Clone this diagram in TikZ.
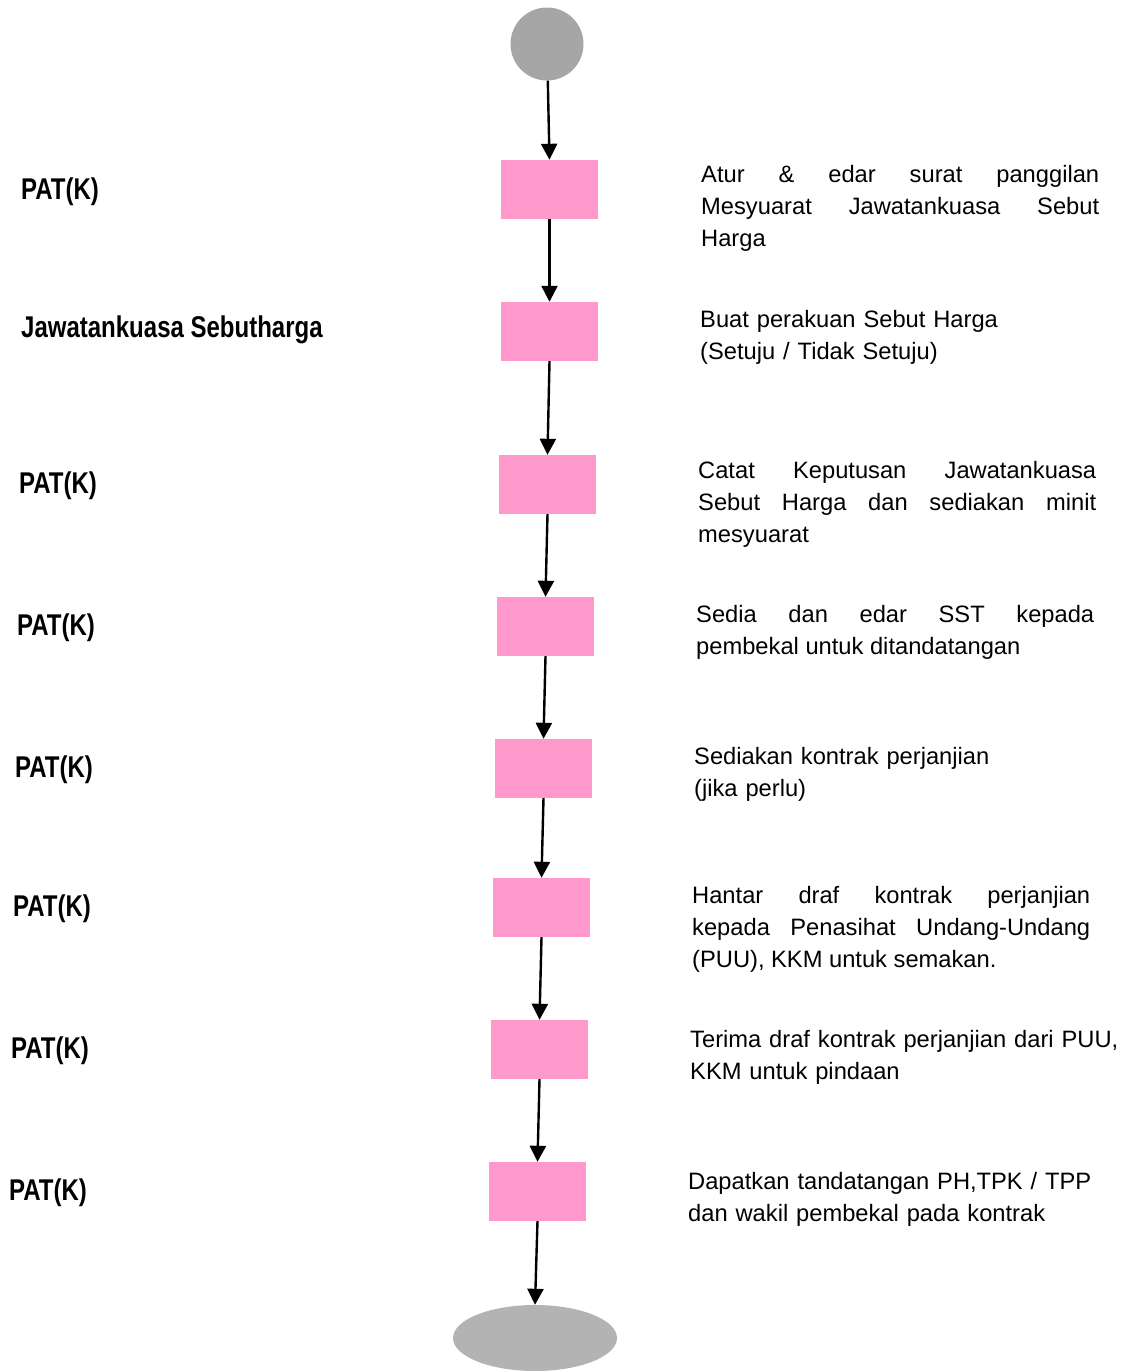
\documentclass[tikz,border=0pt]{standalone}
\usepackage{fontspec}
\setmainfont{Liberation Sans}
\newfontfamily\labelfont[FakeStretch=0.8]{Liberation Sans Bold}
\usetikzlibrary{arrows.meta,shapes.geometric}
\definecolor{boxpink}{HTML}{FF99CC}
\definecolor{startgray}{HTML}{A6A6A6}
\definecolor{endgray}{HTML}{B3B3B3}
\begin{document}
\begin{tikzpicture}[x=1pt,y=-1pt,
  stepbox/.style={fill=boxpink, draw=none, minimum width=97pt, minimum height=59pt, inner sep=0pt},
  flow/.style={line width=2.4pt, -{Triangle[width=16pt,length=16pt]}},
  who/.style={anchor=base west, inner sep=0pt, font=\fontsize{30pt}{36pt}\labelfont},
  what/.style={anchor=base west, inner sep=0pt, text width=398pt, align=justify, font=\fontsize{23.7pt}{32pt}\selectfont},
  whatrag/.style={anchor=base west, inner sep=0pt, text width=440pt, align=left, font=\fontsize{23.7pt}{32pt}\selectfont}]
\useasboundingbox (0,0) rectangle (1129,1371);

% terminals
\node[circle, fill=startgray, draw=none, minimum size=73pt, inner sep=0pt] (start) at (547,44) {};
\node[ellipse, fill=endgray, draw=none, minimum width=164pt, minimum height=66pt, inner sep=0pt] (finish) at (535,1338) {};

% process steps
\node[stepbox] (b1) at (549.5,189.5) {};
\node[stepbox] (b2) at (549.5,331.5) {};
\node[stepbox] (b3) at (547.5,484.5) {};
\node[stepbox] (b4) at (545.5,626.5) {};
\node[stepbox] (b5) at (543.5,768.5) {};
\node[stepbox] (b6) at (541.5,907.5) {};
\node[stepbox] (b7) at (539.5,1049.5) {};
\node[stepbox] (b8) at (537.5,1191.5) {};

% connectors
\draw[flow] (start) -- (b1.north);
\draw[flow] (b1.south) -- (b2.north);
\draw[flow] (b2.south) -- (b3.north);
\draw[flow] (b3.south) -- (b4.north);
\draw[flow] (b4.south) -- (b5.north);
\draw[flow] (b5.south) -- (b6.north);
\draw[flow] (b6.south) -- (b7.north);
\draw[flow] (b7.south) -- (b8.north);
\draw[flow] (b8.south) -- (finish.north);

% responsible party
\node[who] (w1) at (21,199) {PAT(K)};
\node[who] (w2) at (21,337) {Jawatankuasa Sebutharga};
\node[who] (w3) at (19,493) {PAT(K)};
\node[who] (w4) at (17,635) {PAT(K)};
\node[who] (w5) at (15,777) {PAT(K)};
\node[who] (w6) at (13,916) {PAT(K)};
\node[who] (w7) at (11,1058) {PAT(K)};
\node[who] (w8) at (9,1200) {PAT(K)};

% activity descriptions
\node[what] (d1) at (701,182) {Atur \& edar surat panggilan\linebreak Mesyuarat Jawatankuasa Sebut\linebreak Harga};
\node[whatrag] (d2) at (700,327) {Buat perakuan Sebut Harga\\(Setuju / Tidak Setuju)};
\node[what] (d3) at (698,478) {Catat Keputusan Jawatankuasa\linebreak Sebut Harga dan sediakan minit\linebreak mesyuarat};
\node[what] (d4) at (696,622) {Sedia dan edar SST kepada\linebreak pembekal untuk ditandatangan};
\node[whatrag] (d5) at (694,764) {Sediakan kontrak perjanjian\\(jika perlu)};
\node[what] (d6) at (692,903) {Hantar draf kontrak perjanjian\linebreak kepada Penasihat Undang-Undang\linebreak (PUU), KKM untuk semakan.};
\node[whatrag] (d7) at (690,1047) {Terima draf kontrak perjanjian dari PUU,\\KKM untuk pindaan};
\node[whatrag] (d8) at (688,1189) {Dapatkan tandatangan PH,TPK / TPP\\dan wakil pembekal pada kontrak};
\end{tikzpicture}
\end{document}
